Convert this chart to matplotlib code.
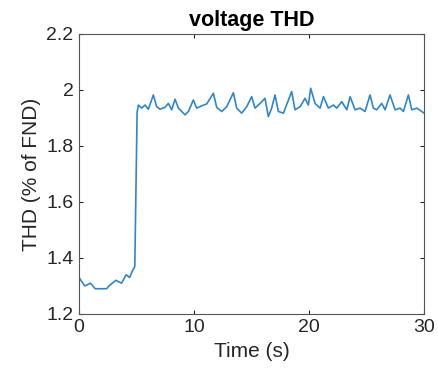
import numpy as np
import matplotlib.pyplot as plt

# time (s) and THD (% of FND)
time_s = [0.0, 0.5, 1.0, 1.4, 1.8, 2.4, 2.6, 3.2, 3.7, 4.1, 4.4, 4.6, 4.85,
          5.05, 5.16, 5.45, 5.74, 6.03, 6.46, 6.75, 7.04, 7.48, 7.77, 8.06,
          8.35, 8.64, 8.93, 9.22, 9.51, 9.94, 10.23, 10.67, 11.10, 11.68,
          11.97, 12.41, 12.84, 13.42, 13.71, 14.14, 14.58, 15.01, 15.30,
          15.74, 16.17, 16.46, 16.75, 17.04, 17.33, 17.77, 18.49, 18.78,
          19.22, 19.65, 19.94, 20.14, 20.52, 20.96, 21.25, 21.68, 22.12,
          22.41, 22.84, 23.28, 23.57, 24.0, 24.43, 24.87, 25.30, 25.59,
          25.88, 26.32, 26.61, 27.04, 27.48, 27.91, 28.20, 28.64, 28.93,
          29.38, 30.0]
thd = [1.33, 1.30, 1.31, 1.29, 1.29, 1.29, 1.30, 1.32, 1.31, 1.34, 1.33, 1.35, 1.37,
       1.92, 1.946, 1.935, 1.946, 1.931, 1.982, 1.940, 1.931, 1.938, 1.952, 1.929,
       1.967, 1.935, 1.923, 1.911, 1.923, 1.964, 1.935, 1.943, 1.950, 1.988,
       1.938, 1.923, 1.940, 1.990, 1.935, 1.917, 1.940, 1.976, 1.935,
       1.952, 1.970, 1.905, 1.935, 1.982, 1.923, 1.917, 1.994, 1.929,
       1.940, 1.970, 1.946, 2.006, 1.952, 1.935, 1.976, 1.935, 1.946,
       1.935, 1.958, 1.929, 1.976, 1.929, 1.935, 1.923, 1.982, 1.935,
       1.929, 1.952, 1.929, 1.982, 1.929, 1.935, 1.923, 1.982, 1.929,
       1.935, 1.917]

plt.rcParams['font.family'] = ['Liberation Sans', 'DejaVu Sans']

fig = plt.figure(figsize=(4.39, 3.81), dpi=100)
ax = fig.add_axes([0.18, 0.176, 0.786, 0.735])
ax.plot(time_s, thd, color='#2f86cc', linewidth=1.2)

ax.set_xlim(0, 30)
ax.set_ylim(1.2, 2.2)
ax.set_xticks([0, 10, 20, 30])
ax.set_yticks([1.2, 1.4, 1.6, 1.8, 2.0, 2.2])
ax.set_yticklabels(['1.2', '1.4', '1.6', '1.8', '2', '2.2'])
ax.tick_params(direction='in', length=3, width=0.8, colors='#262626',
               labelsize=14, top=True, right=True, pad=4)
for s in ax.spines.values():
    s.set_color('#555555')
    s.set_linewidth(0.8)

ax.set_xlabel('Time (s)', fontsize=15, color='#262626')
ax.set_ylabel('THD (% of FND)', fontsize=15, color='#262626')
ax.set_title('voltage THD', fontsize=15.5, fontweight='bold', pad=6)

plt.savefig('out.png', dpi=100)
